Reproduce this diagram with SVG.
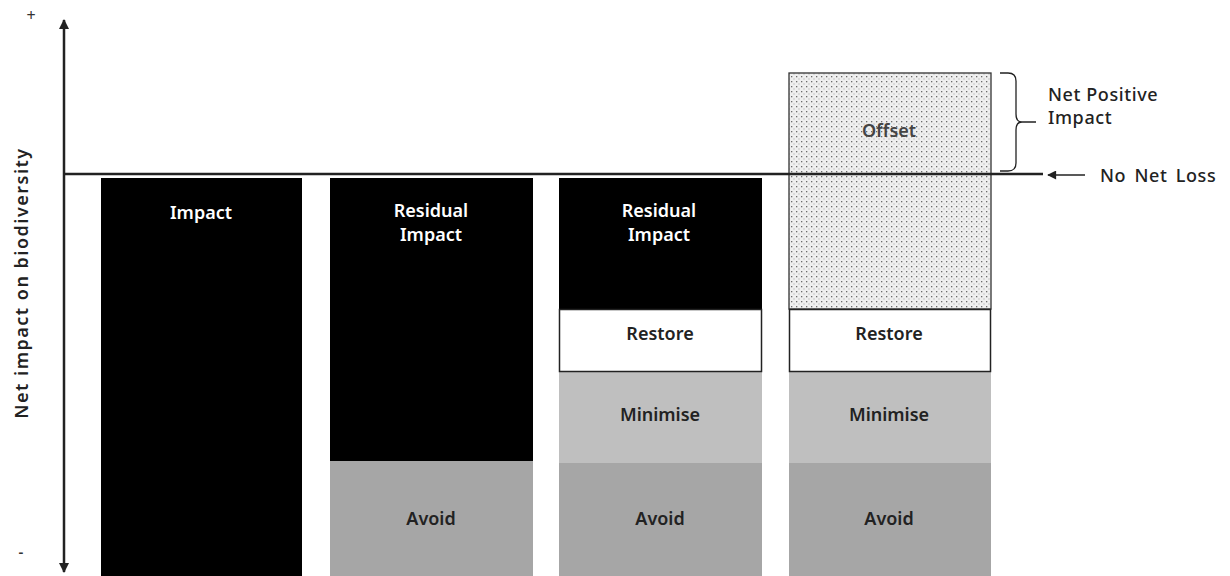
<svg xmlns="http://www.w3.org/2000/svg" width="1230" height="576" viewBox="0 0 1230 576">
<style>
text{font-family:"Noto Sans","Open Sans",sans-serif;font-size:18px;text-anchor:middle}
.w{fill:#fff;font-weight:600}
.d{fill:#222;font-weight:600}
.l{text-anchor:start;fill:#222;font-weight:500;letter-spacing:0.6px}
.black{fill:#000}
.avoid{fill:#a6a6a6}
.min{fill:#bfbfbf}
.rest{fill:#fff;stroke:#222;stroke-width:1.5}
.ax{stroke:#222;stroke-width:2.5;fill:none}
</style>
<defs>
<pattern id="dots" width="5" height="5" patternUnits="userSpaceOnUse">
<rect width="5" height="5" fill="#efefef"/>
<rect x="1" y="1" width="1.3" height="1.3" fill="#6a6a6a"/>
<rect x="3.5" y="3.5" width="1" height="1" fill="#a0a0a0"/>
</pattern>
<marker id="ah" viewBox="0 0 10 10" refX="9" refY="5" markerWidth="12" markerHeight="10" markerUnits="userSpaceOnUse" orient="auto-start-reverse">
<path d="M0,0 L10,5 L0,10 z" fill="#222"/>
</marker>
<marker id="ah2" viewBox="0 0 10 10" refX="9" refY="5" markerWidth="11" markerHeight="9" markerUnits="userSpaceOnUse" orient="auto">
<path d="M0,0 L10,5 L0,10 z" fill="#222"/>
</marker>
</defs>
<rect width="1230" height="576" fill="#fff"/>
<g id="axis-labels">
<text x="31" y="21" style="font-size:16px" fill="#333">+</text>
<text x="21" y="557" style="font-size:15px;font-weight:600" fill="#333">-</text>
<text transform="translate(28,283) rotate(-90)" class="d" style="letter-spacing:1.5px">Net impact on biodiversity</text>
</g>
<g id="bar1">
<rect class="black" x="101" y="178" width="201" height="398"/>
<text class="w" x="201" y="219">Impact</text>
</g>
<g id="bar2">
<rect class="black" x="330" y="178" width="203" height="283"/>
<rect class="avoid" x="330" y="461" width="203" height="115"/>
<text class="w" x="431" y="217">Residual</text>
<text class="w" x="431" y="241">Impact</text>
<text class="d" x="431" y="525">Avoid</text>
</g>
<g id="bar3">
<rect class="black" x="559" y="178" width="203" height="131"/>
<rect class="min" x="559" y="371" width="203" height="92"/>
<rect class="avoid" x="559" y="463" width="203" height="113"/>
<rect class="rest" x="559.5" y="309.5" width="202" height="62"/>
<text class="w" x="659" y="217">Residual</text>
<text class="w" x="659" y="241">Impact</text>
<text class="d" x="660" y="340">Restore</text>
<text class="d" x="660" y="421">Minimise</text>
<text class="d" x="660" y="525">Avoid</text>
</g>
<g id="bar4">
<rect x="789" y="73" width="202" height="236" fill="url(#dots)" stroke="#333" stroke-width="1.3"/>
<rect class="min" x="789" y="371" width="202" height="92"/>
<rect class="avoid" x="789" y="463" width="202" height="113"/>
<rect class="rest" x="789.5" y="309.5" width="201" height="62"/>
<text x="889" y="137" fill="#444" style="font-weight:600">Offset</text>
<text class="d" x="889" y="340">Restore</text>
<text class="d" x="889" y="421">Minimise</text>
<text class="d" x="889" y="525">Avoid</text>
</g>
<g id="annotations">
<text class="l" x="1048" y="101">Net Positive</text>
<text class="l" x="1048" y="124">Impact</text>
<text class="l" x="1100" y="182" style="word-spacing:3px">No Net Loss</text>
</g>
<g id="connectors">
<line class="ax" x1="64" y1="572" x2="64" y2="20" marker-end="url(#ah)" marker-start="url(#ah)"/>
<line x1="64" y1="174" x2="1043" y2="174" stroke="#222" stroke-width="2.5"/>
<line x1="1085" y1="175" x2="1048" y2="175" stroke="#222" stroke-width="1.5" marker-end="url(#ah2)"/>
<path d="M1000,73 H1008 Q1016,73 1016,81 V114 Q1016,122 1022,122 H1036 M1022,122 Q1016,122 1016,130 V163 Q1016,171 1008,171 H1000" fill="none" stroke="#222" stroke-width="1.3"/>
</g>
</svg>
